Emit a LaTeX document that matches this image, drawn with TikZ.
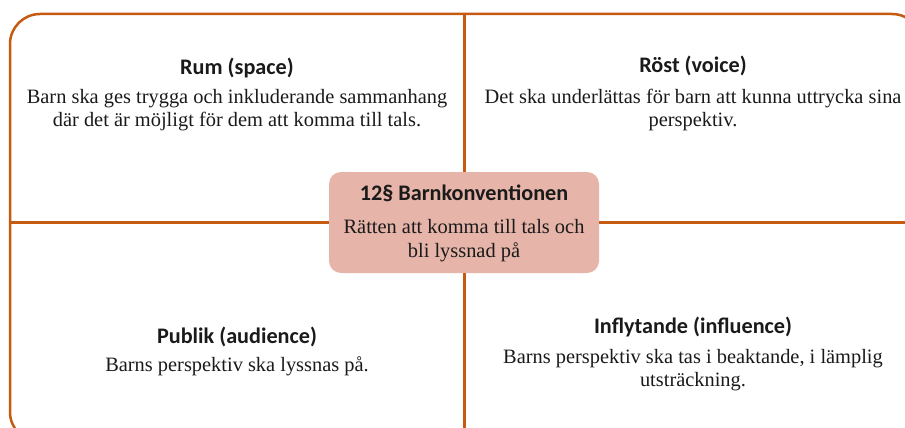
\documentclass[tikz,border=0pt]{standalone}
\usepackage{fontspec}
\setmainfont{Liberation Serif}
\newfontfamily\titlefont{Carlito}
\definecolor{frameorange}{HTML}{C55A11}
\definecolor{centerfill}{HTML}{E6B4A8}
\definecolor{txt}{HTML}{1A1A1A}
\begin{document}
\begin{tikzpicture}[x=1pt,y=-1pt,
  divider/.style={draw=frameorange,line width=3pt},
  frame/.style={draw=frameorange,line width=2.5pt,rounded corners=30pt},
  heading/.style={font=\titlefont\bfseries\fontsize{22.2}{25}\selectfont,text=txt,inner sep=0pt},
  bodytext/.style={font=\fontsize{20.4}{23.5}\selectfont,text=txt,align=center,inner sep=0pt},
  centerbox/.style={fill=centerfill,rounded corners=12pt,minimum width=270pt,minimum height=101pt,inner sep=0pt}]
\useasboundingbox (0,0) rectangle (905,428);
\clip (0,0) rectangle (905,428);
% outer frame
\coordinate (tl) at (10,14);
\coordinate (br) at (922,442);
\draw[frame] (tl) rectangle (br);
% center box
\node[centerbox] (c) at (464,222.5) {};
\coordinate (top) at (464,14);
\coordinate (bot) at (464,442);
\coordinate (lft) at (10,222);
\coordinate (rgt) at (922,222);
\draw[divider] (c.north) -- (c.north |- top);
\draw[divider] (c.south) -- (c.south |- bot);
\draw[divider] (c.west |- lft) -- (lft);
\draw[divider] (c.east |- rgt) -- (rgt);
% center texts
\node[heading] (ct) at (464,193) {12§ Barnkonventionen};
\node[bodytext] (cb) at (464,240.5) {Rätten att komma till tals och\\bli lyssnad på};
% quadrants
\node[heading] (t1) at (237,68) {Rum (space)};
\node[bodytext] (b1) at (237,110) {Barn ska ges trygga och inkluderande sammanhang\\där det är möjligt för dem att komma till tals.};
\node[heading] (t2) at (693,66) {Röst (voice)};
\node[bodytext] (b2) at (693,110) {Det ska underlättas för barn att kunna uttrycka sina\\perspektiv.};
\node[heading] (t3) at (237,337) {Publik (audience)};
\node[bodytext] (b3) at (237,366) {Barns perspektiv ska lyssnas på.};
\node[heading] (t4) at (693,327) {Inflytande (influence)};
\node[bodytext] (b4) at (693,370) {Barns perspektiv ska tas i beaktande, i lämplig\\utsträckning.};
\end{tikzpicture}
\end{document}
